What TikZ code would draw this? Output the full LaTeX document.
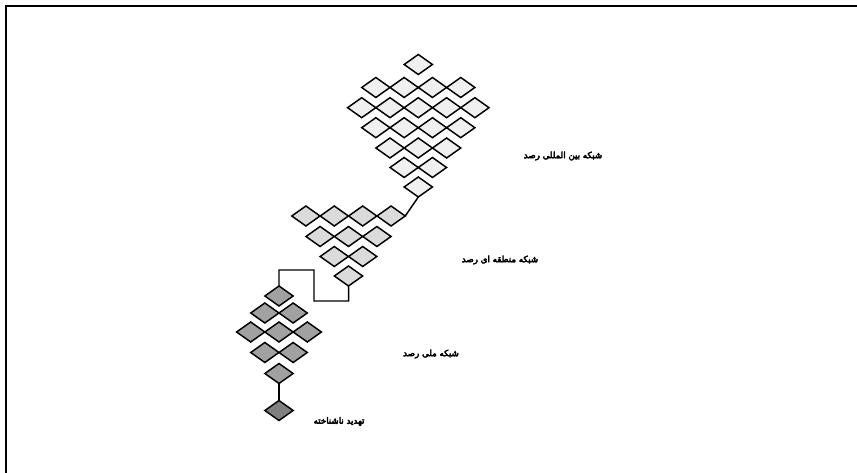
\documentclass[tikz,border=0pt]{standalone}
\usepackage{fontspec}
\usetikzlibrary{shapes.geometric}
\TeXXeTstate=1
\newfontfamily\arabicfont[Script=Arabic, FakeBold=5]{DejaVu Sans}
\tikzset{
  dia/.style={diamond, draw=black, line width=1.1pt, inner sep=0pt, outer sep=0pt,
    minimum width=21.2pt, minimum height=15pt},
  gA/.style={dia, fill=black!6},
  gB/.style={dia, fill=black!14},
  gC/.style={dia, fill=black!37},
  gD/.style={dia, fill=black!50},
  conn/.style={draw=black, line width=1.1pt},
  lab/.style={font=\arabicfont\fontsize{6.5}{8}\selectfont, inner sep=0pt},
  frameline/.style={draw=black, line width=1.6pt}
}
\begin{document}
\begin{tikzpicture}[x=0.75pt, y=-0.75pt]
\useasboundingbox (0,0) rectangle (857,473);
% frame (left and top edges)
\coordinate (fb) at (6,473);
\coordinate (fc) at (6,6);
\coordinate (fr) at (857,6);
\draw[frameline] (fb) -- (fc) -- (fr);
% group 1 (international)
\foreach \r/\n/\y in {1/1/64.5, 2/4/87.5, 3/5/107.7, 4/4/127.7, 5/3/148, 6/2/167.5, 7/1/187}{
  \foreach \i in {1,...,\n}{
    \node[gA] (a\r c\i) at ({418.3+(\i-(\n+1)/2)*28.3}, \y) {};
  }
}
% group 2 (regional)
\foreach \r/\n/\y in {1/4/216, 2/3/236.5, 3/2/256.5, 4/1/276}{
  \foreach \i in {1,...,\n}{
    \node[gB] (b\r c\i) at ({348.5+(\i-(\n+1)/2)*28.4}, \y) {};
  }
}
% group 3 (national)
\foreach \r/\n/\y in {1/1/296, 2/2/313, 3/3/332, 4/2/352.5, 5/1/373.5}{
  \foreach \i in {1,...,\n}{
    \node[gC] (c\r c\i) at ({279+(\i-(\n+1)/2)*28.3}, \y) {};
  }
}
% unknown threat
\node[gD] (d1) at (279,410.5) {};
% connectors
\draw[conn] (a7c1.south) -- (b1c4.east);
\coordinate (k1) at (348.7,301);
\coordinate (k2) at (314,301);
\coordinate (k3) at (314,270);
\coordinate (k4) at (279,270);
\draw[conn] (b4c1.south) -- (k1) -- (k2) -- (k3) -- (k4) -- (c1c1.north);
\draw[conn] (c5c1.south) -- (d1.north);
% labels
\node[lab] (l1) at (563,156) {\beginR شبکه بین المللی رصد\endR};
\node[lab] (l2) at (500,260) {\beginR شبکه منطقه ای رصد\endR};
\node[lab] (l3) at (431,354) {\beginR شبکه ملی رصد\endR};
\node[lab] (l4) at (339,421.5) {\beginR تهدید ناشناخته\endR};
\end{tikzpicture}
\end{document}
